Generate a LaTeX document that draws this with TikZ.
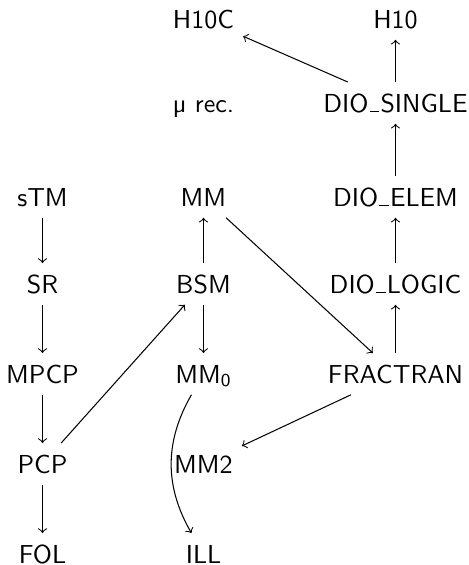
\documentclass[tikz,border=0pt]{standalone}
\usepackage{fontspec}
\newcommand\usc{\kern0.04em\rule{0.38em}{0.045em}\kern0.04em}
\begin{document}
\begin{tikzpicture}[x=0.3846pt,y=-0.3846pt,
  lbl/.style={font=\sffamily, text height=0.8em, text depth=0.1em, anchor=base},
  arr/.style={->}]
\useasboundingbox (0,0) rectangle (469,565);
% left column
\node[lbl] (stm)  at (42.5,206) {sTM};
\node[lbl] (sr)   at (42.5,293) {SR};
\node[lbl] (mpcp) at (42.5,383) {MPCP};
\node[lbl] (pcp)  at (42.5,473) {PCP};
\node[lbl] (fol)  at (42.5,563) {FOL};
% middle column
\node[lbl] (h10c) at (203.5,28)  {H10C};
\node[lbl] (mu)   at (203.5,112) {µ rec.};
\node[lbl] (mm)   at (203.5,206) {MM};
\node[lbl] (bsm)  at (203.5,293) {BSM};
\node[lbl] (mm0)  at (203.5,383) {MM\textsubscript{0}};
\node[lbl] (mm2)  at (203.5,473) {MM2};
\node[lbl] (ill)  at (203.5,563) {ILL};
% right column
\node[lbl] (h10)  at (395.5,28)  {H10};
\node[lbl] (dsing) at (395.5,112) {DIO\usc SINGLE};
\node[lbl] (delem) at (395.5,206) {DIO\usc ELEM};
\node[lbl] (dlog) at (395.5,293) {DIO\usc LOGIC};
\node[lbl] (frac) at (395.5,383) {FRACTRAN};
% arrows
\draw[arr] (stm) -- (sr);
\draw[arr] (sr) -- (mpcp);
\draw[arr] (mpcp) -- (pcp);
\draw[arr] (pcp) -- (fol);
\draw[arr] (pcp) -- (bsm);
\draw[arr] (bsm) -- (mm);
\draw[arr] (bsm) -- (mm0);
\draw[arr] (mm0) to[bend right=30] (ill);
\draw[arr] (mm) -- (frac);
\draw[arr] (frac) -- (mm2);
\draw[arr] (frac) -- (dlog);
\draw[arr] (dlog) -- (delem);
\draw[arr] (delem) -- (dsing);
\draw[arr] (dsing) -- (h10);
\draw[arr] (dsing) -- (h10c);
\end{tikzpicture}
\end{document}
